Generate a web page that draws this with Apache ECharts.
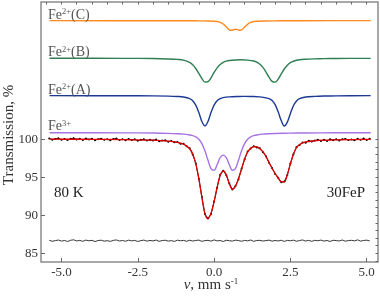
<!DOCTYPE html>
<html>
<head>
<meta charset="utf-8">
<script src="https://cdn.jsdelivr.net/npm/echarts@6/dist/echarts.min.js"></script>
<style>html,body{margin:0;padding:0;background:#fff}#c{width:380px;height:297px}</style>
</head>
<body>
<div id="c"></div>
<script>
// ---- data ----
var velC = [-5.39, -2, -1, -0.5, -0.2, 0, 0.1, 0.2, 0.3, 0.4, 0.5, 0.55, 0.6, 0.705, 0.8, 0.85, 0.9, 1.0, 1.1, 1.2, 1.3, 1.4, 1.7, 2.2, 3, 5.13];
var fe2C = [115.60, 115.59, 115.59, 115.57, 115.55, 115.52, 115.48, 115.38, 115.16, 114.78, 114.39, 114.33, 114.36, 114.46, 114.36, 114.33, 114.37, 114.75, 115.13, 115.37, 115.48, 115.52, 115.55, 115.58, 115.59, 115.60];

var velB = [-5.39, -3, -2, -1.5, -1.2, -1.0, -0.8, -0.7, -0.6, -0.5, -0.4, -0.3, -0.2, -0.1, 0, 0.1, 0.2, 0.3, 0.4, 0.5, 0.7, 0.9, 1.1, 1.3, 1.4, 1.5, 1.6, 1.7, 1.8, 1.9, 2.0, 2.1, 2.2, 2.3, 2.4, 2.5, 2.6, 2.8, 3.0, 3.3, 3.6, 4.0, 5.13];
var fe2B = [110.65, 110.64, 110.61, 110.56, 110.50, 110.40, 110.10, 109.79, 109.30, 108.66, 107.99, 107.51, 107.57, 108.08, 108.79, 109.39, 109.83, 110.12, 110.28, 110.36, 110.43, 110.45, 110.41, 110.29, 110.14, 109.87, 109.45, 108.84, 108.16, 107.61, 107.51, 107.91, 108.59, 109.24, 109.73, 110.07, 110.26, 110.45, 110.52, 110.57, 110.60, 110.62, 110.64];

var velA = [-5.39, -3, -2, -1.5, -1.2, -1.0, -0.8, -0.7, -0.6, -0.5, -0.4, -0.3, -0.2, -0.1, 0, 0.1, 0.2, 0.3, 0.5, 0.8, 1.0, 1.2, 1.5, 1.8, 1.9, 2.0, 2.1, 2.2, 2.3, 2.4, 2.5, 2.6, 2.7, 2.8, 3.0, 3.3, 3.6, 4.0, 5.13];
var fe2A = [105.73, 105.72, 105.70, 105.67, 105.62, 105.55, 105.35, 105.07, 104.48, 103.51, 102.33, 101.73, 102.33, 103.51, 104.48, 105.05, 105.33, 105.47, 105.57, 105.62, 105.63, 105.62, 105.57, 105.35, 105.09, 104.55, 103.60, 102.45, 101.74, 102.25, 103.39, 104.41, 105.03, 105.34, 105.55, 105.64, 105.68, 105.70, 105.73];

var velFe3 = [-5.39, -3, -2, -1.5, -1.2, -1.0, -0.8, -0.7, -0.6, -0.5, -0.4, -0.3, -0.2, -0.1, 0, 0.1, 0.2, 0.3, 0.4, 0.5, 0.6, 0.7, 0.8, 0.9, 1.0, 1.1, 1.2, 1.3, 1.4, 1.6, 1.8, 2.0, 2.5, 3.0, 4.0, 5.13];
var fe3 = [100.86, 100.84, 100.81, 100.77, 100.72, 100.67, 100.56, 100.47, 100.31, 99.99, 99.42, 98.47, 97.24, 96.14, 95.91, 96.65, 97.57, 97.91, 97.57, 96.65, 95.91, 96.14, 97.24, 98.47, 99.42, 99.99, 100.31, 100.47, 100.56, 100.67, 100.72, 100.75, 100.80, 100.82, 100.85, 100.86];

var velFit = [-5.39, -4, -3, -2, -1.5, -1.2, -1.0, -0.8, -0.7, -0.6, -0.5, -0.4, -0.3, -0.2, -0.1, 0, 0.1, 0.2, 0.3, 0.4, 0.5, 0.6, 0.7, 0.8, 0.9, 1.0, 1.1, 1.2, 1.3, 1.4, 1.5, 1.6, 1.7, 1.8, 1.9, 2.0, 2.1, 2.2, 2.3, 2.4, 2.5, 2.6, 2.7, 2.8, 3.0, 3.3, 3.6, 4.0, 5.13];
var fitSum = [100.00, 99.99, 99.96, 99.87, 99.74, 99.58, 99.36, 98.74, 98.06, 96.80, 94.85, 92.35, 90.20, 89.55, 90.25, 91.75, 93.68, 95.25, 95.82, 95.32, 94.13, 93.42, 93.80, 94.82, 96.07, 97.41, 98.32, 98.81, 99.01, 98.98, 98.76, 98.36, 97.72, 96.95, 96.15, 95.50, 94.90, 94.40, 94.38, 95.35, 96.75, 98.05, 98.90, 99.30, 99.64, 99.79, 99.87, 99.92, 99.99];

var velData = [-5.4, -5.3, -5.2, -5.1, -5.0, -4.9, -4.8, -4.7, -4.6, -4.5, -4.4, -4.3, -4.2, -4.1, -4.0, -3.9, -3.8, -3.7, -3.6, -3.5, -3.4, -3.3, -3.2, -3.1, -3.0, -2.9, -2.8, -2.7, -2.6, -2.5, -2.4, -2.3, -2.2, -2.1, -2.0, -1.9, -1.8, -1.7, -1.6, -1.5, -1.4, -1.3, -1.2, -1.1, -1.0, -0.9, -0.8, -0.7, -0.6, -0.5, -0.4, -0.3, -0.2, -0.1, 0.0, 0.1, 0.2, 0.3, 0.4, 0.5, 0.6, 0.7, 0.8, 0.9, 1.0, 1.1, 1.2, 1.3, 1.4, 1.5, 1.6, 1.7, 1.8, 1.9, 2.0, 2.1, 2.2, 2.3, 2.4, 2.5, 2.6, 2.7, 2.8, 2.9, 3.0, 3.1, 3.2, 3.3, 3.4, 3.5, 3.6, 3.7, 3.8, 3.9, 4.0, 4.1, 4.2, 4.3, 4.4, 4.5, 4.6, 4.7, 4.8, 4.9, 5.0, 5.1];
var measured = [100.10, 99.94, 100.04, 100.12, 99.92, 100.02, 99.89, 100.07, 100.13, 99.96, 100.05, 99.90, 100.10, 99.97, 100.07, 99.87, 100.01, 100.07, 99.92, 99.98, 99.87, 100.03, 100.08, 99.91, 100.00, 99.87, 100.04, 99.90, 99.99, 99.80, 99.92, 99.99, 99.82, 99.93, 99.83, 99.96, 99.73, 99.83, 99.85, 99.68, 99.76, 99.59, 99.62, 99.40, 99.42, 99.06, 98.82, 97.99, 96.85, 94.79, 92.43, 90.15, 89.58, 90.18, 91.81, 93.63, 95.32, 95.86, 95.26, 94.18, 93.38, 93.86, 94.74, 96.12, 97.35, 98.39, 98.78, 99.09, 98.92, 98.80, 98.29, 97.77, 96.91, 96.23, 95.44, 94.94, 94.35, 94.44, 95.28, 96.80, 98.01, 98.98, 99.24, 99.57, 99.55, 99.80, 99.70, 99.82, 99.93, 99.77, 99.93, 99.78, 100.01, 99.88, 99.99, 99.84, 99.98, 100.04, 99.89, 99.97, 99.85, 100.05, 99.93, 100.10, 99.91, 100.05];
var residual = [86.70, 86.58, 86.66, 86.74, 86.60, 86.68, 86.55, 86.71, 86.77, 86.62, 86.69, 86.57, 86.73, 86.64, 86.70, 86.54, 86.67, 86.72, 86.59, 86.66, 86.56, 86.70, 86.75, 86.61, 86.68, 86.58, 86.72, 86.63, 86.69, 86.55, 86.66, 86.73, 86.59, 86.69, 86.62, 86.74, 86.57, 86.67, 86.71, 86.60, 86.66, 86.56, 86.72, 86.64, 86.69, 86.58, 86.71, 86.61, 86.68, 86.73, 86.57, 86.66, 86.70, 86.59, 86.76, 86.62, 86.68, 86.55, 86.71, 86.65, 86.60, 86.72, 86.67, 86.58, 86.69, 86.63, 86.74, 86.57, 86.68, 86.70, 86.61, 86.66, 86.73, 86.59, 86.68, 86.62, 86.71, 86.56, 86.69, 86.64, 86.72, 86.58, 86.67, 86.75, 86.61, 86.69, 86.57, 86.70, 86.64, 86.73, 86.60, 86.68, 86.55, 86.71, 86.66, 86.62, 86.74, 86.59, 86.67, 86.70, 86.63, 86.76, 86.60, 86.68, 86.72, 86.62];

var xLabels = [-5.0, -2.5, 0.0, 2.5, 5.0];
var xMinorTicks = [-5.5, -5.0, -4.5, -4.0, -3.5, -3.0, -2.5, -2.0, -1.5, -1.0, -0.5, 0.0, 0.5, 1.0, 1.5, 2.0, 2.5, 3.0, 3.5, 4.0, 4.5, 5.0];
var yLabels = [85, 90, 95, 100];
var yMinorTicks = [84, 85, 86, 87, 88, 89, 90, 91, 92, 93, 94, 95, 96, 97, 98, 99, 100];
var componentNames = ['Fe2+(C)', 'Fe2+(B)', 'Fe2+(A)', 'Fe3+'];

function pairs(xs, ys) { return xs.map(function (x, i) { return [x, ys[i]]; }); }

var SERIF = "'Liberation Serif', 'Times New Roman', serif";
var chart = echarts.init(document.getElementById('c'), null, { renderer: 'canvas' });

function xAxisDef(ticks, len, showLabel) {
  return {
    type: 'value', min: -5.67, max: 5.37,
    axisLine: { show: false, onZero: false },
    splitLine: { show: false },
    axisTick: { show: true, inside: true, length: len, customValues: ticks, lineStyle: { color: '#666', width: 1 } },
    axisLabel: { show: showLabel, customValues: xLabels, margin: 4, color: '#333', fontSize: 13, fontFamily: SERIF,
      formatter: function (v) { return Number(v).toFixed(1); } }
  };
}
function yAxisDef(ticks, len, showLabel) {
  return {
    type: 'value', min: 83.85, max: 118.05,
    axisLine: { show: false, onZero: false },
    splitLine: { show: false },
    axisTick: { show: true, inside: true, length: len, customValues: ticks, lineStyle: { color: '#666', width: 1 } },
    axisLabel: { show: showLabel, customValues: yLabels, margin: 3, color: '#333', fontSize: 13, fontFamily: SERIF }
  };
}

function lineSeries(name, data, color, width, z) {
  return { name: name, type: 'line', data: data, smooth: 0.35, showSymbol: false, symbol: 'none',
    lineStyle: { color: color, width: width }, z: z, animation: false };
}

function compLabel(prefix, sup, suffix, y) {
  return { type: 'text', x: 48, y: y, z: 50,
    style: { text: '{a|' + prefix + '}{s|' + sup + '}{a|' + suffix + '}',
      verticalAlign: 'middle', align: 'left',
      rich: { a: { fontSize: 14, fontFamily: SERIF, fill: '#555', color: '#555' },
              s: { fontSize: 8.5, fontFamily: SERIF, fill: '#555', color: '#555', padding: [0, 0, 6, 0] } } } };
}

chart.setOption({
  animation: false,
  backgroundColor: '#fff',
  grid: { left: 41, right: 2, top: 2, bottom: 35, show: true, borderColor: '#8c8c8c', borderWidth: 1.5, backgroundColor: 'transparent' },
  xAxis: [xAxisDef(xLabels, 4, true), xAxisDef(xMinorTicks, 2.5, false)],
  yAxis: [yAxisDef(yLabels, 4, true), yAxisDef(yMinorTicks, 2.5, false)],
  series: [
    lineSeries(componentNames[0], pairs(velC, fe2C), '#ff8a1f', 1.4, 3),
    lineSeries(componentNames[1], pairs(velB, fe2B), '#2f7f52', 1.4, 3),
    lineSeries(componentNames[2], pairs(velA, fe2A), '#1c3a94', 1.4, 3),
    lineSeries(componentNames[3], pairs(velFe3, fe3), '#a772e3', 1.4, 3),
    { name: 'data', type: 'line', data: pairs(velData, measured), smooth: false,
      symbol: 'circle', symbolSize: 2, showSymbol: true, itemStyle: { color: '#000' },
      lineStyle: { color: '#000', width: 0.9 }, z: 4, animation: false },
    lineSeries('fit', pairs(velFit, fitSum), '#e00000', 1.3, 5),
    { name: 'residual', type: 'line', data: pairs(velData, residual), smooth: false, showSymbol: false, symbol: 'none',
      lineStyle: { color: '#222', width: 0.9 }, z: 4, animation: false }
  ],
  graphic: [
    compLabel('Fe', '2+', '(C)', 15),
    compLabel('Fe', '2+', '(B)', 52.5),
    compLabel('Fe', '2+', '(A)', 90),
    compLabel('Fe', '3+', '', 126.5),
    { type: 'text', x: 54, y: 193, z: 50, style: { text: '80 K', font: '15px ' + SERIF, fill: '#222', align: 'left', verticalAlign: 'middle' } },
    { type: 'text', x: 365, y: 193, z: 50, style: { text: '30FeP', font: '15px ' + SERIF, fill: '#222', align: 'right', verticalAlign: 'middle' } },
    { type: 'text', x: 9, y: 135, rotation: Math.PI / 2, z: 50,
      style: { text: 'Transmission, %', font: '15px ' + SERIF, fill: '#333', align: 'center', verticalAlign: 'middle' } },
    { type: 'text', x: 211, y: 285, z: 50,
      style: { text: '{i|v}{a|, mm s}{s|-1}', align: 'center', verticalAlign: 'middle',
        rich: { i: { fontSize: 15, fontStyle: 'italic', fontFamily: SERIF, fill: '#333', color: '#333' },
                a: { fontSize: 15, fontFamily: SERIF, fill: '#333', color: '#333' },
                s: { fontSize: 9, fontFamily: SERIF, fill: '#333', color: '#333', padding: [0, 0, 7, 0] } } } }
  ]
});
</script>
</body>
</html>
